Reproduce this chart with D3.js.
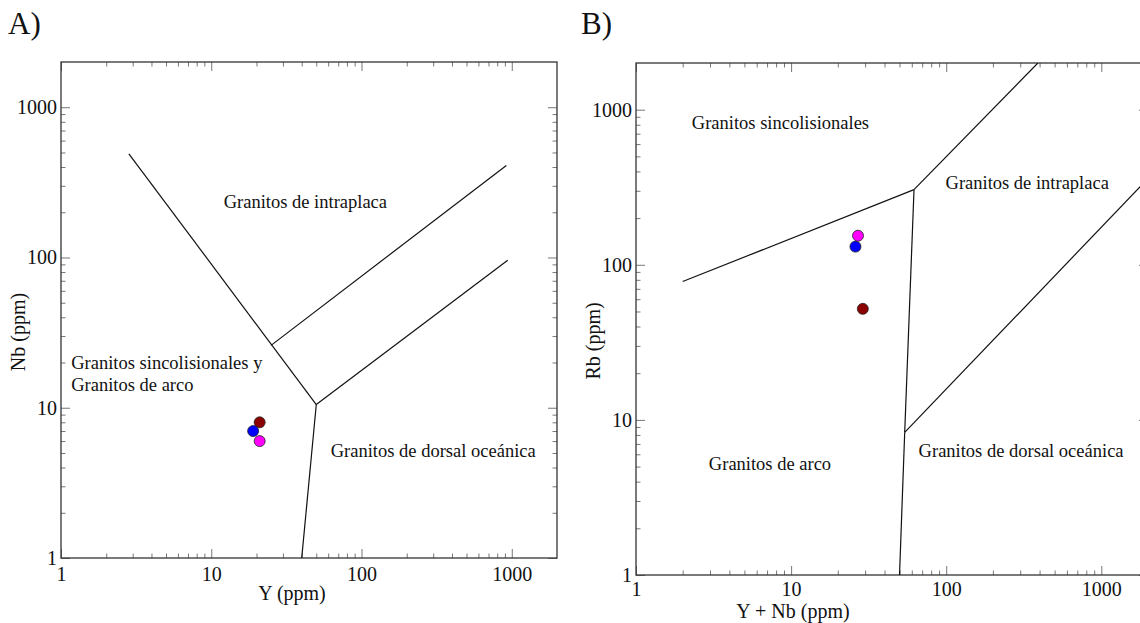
<!DOCTYPE html>
<html><head><meta charset="utf-8">
<script src="https://cdn.jsdelivr.net/npm/d3@7"></script>
<style>body{margin:0;background:#fff}svg{display:block}text{font-family:"Liberation Serif","Times New Roman",serif;fill:#111}</style>
</head><body><svg id="c" width="1140" height="623"></svg>
<script>
// ---- data ----
const majorTicks = [1, 10, 100, 1000];
const tickLabels = ["1", "10", "100", "1000"];
const domainA = [1, 2000];
// Panel A: Nb vs Y
const samples = ["rojo", "azul", "magenta"];
const sampleColors = ["#8b0000", "#0000ff", "#ff00ff"];
const yA = [21, 19, 21];
const nbA = [8, 7, 6];
// Panel B: Rb vs Y+Nb
const ynbB = [29, 26, 27];
const rbB = [52, 131, 154];
// boundary lines (data coordinates)
const linesA = [
  [[2.83, 490], [50, 10.5]],
  [[25, 26], [920, 410]],
  [[50, 10.5], [940, 96]],
  [[50, 10.5], [40, 1]]
];
const linesB = [
  [[2, 78], [62, 305]],
  [[62, 305], [390, 2000]],
  [[62, 305], [54, 8.3]],
  [[54, 8.3], [50, 1]],
  [[54, 8.3], [2000, 360]]
];
const labelsA = [
  {t: "Granitos de intraplaca", x: 12.1, y: 237},
  {t: "Granitos sincolisionales y", x: 1.17, y: 20.1},
  {t: "Granitos de arco", x: 1.17, y: 14.2},
  {t: "Granitos de dorsal oceánica", x: 62.4, y: 5.23}
];
const labelsB = [
  {t: "Granitos sincolisionales", x: 2.29, y: 823},
  {t: "Granitos de intraplaca", x: 99, y: 337},
  {t: "Granitos de arco", x: 2.95, y: 5.22},
  {t: "Granitos de dorsal oceánica", x: 66.4, y: 6.33}
];

const svg = d3.select("#c");
const minor = [];
for (let d = 1; d < 2000; d *= 10) for (let k = 2; k <= 9; k++) if (d * k < 2000) minor.push(d * k);

function panel(opt) {
  const x = d3.scaleLog().domain(domainA).range([opt.x0, opt.x1]);
  const y = d3.scaleLog().domain(domainA).range([opt.y0, opt.y1]);
  const g = svg.append("g");
  const clipId = "clip" + opt.name;
  svg.append("defs").append("clipPath").attr("id", clipId).append("rect")
    .attr("x", opt.x0).attr("y", opt.y1).attr("width", opt.x1 - opt.x0).attr("height", opt.y0 - opt.y1);

  const fmt = d => tickLabels[majorTicks.indexOf(d)];
  function ax(gen, tr, vals, size, labels) {
    const a = gen(gen === d3.axisBottom || gen === d3.axisTop ? x : y)
      .tickValues(vals).tickSize(-size).tickFormat(labels ? fmt : "");
    const s = g.append("g").attr("transform", tr).call(a);
    s.select(".domain").remove();
    s.selectAll(".tick line").attr("stroke", "#777").attr("stroke-width", 1);
    s.selectAll(".tick text").attr("font-size", 20).style("font-family", "Liberation Serif").attr("fill", "#111");
    return s;
  }
  const bx = ax(d3.axisBottom, `translate(0,${opt.y0})`, majorTicks, 9, true);
  bx.selectAll(".tick text").attr("y", opt.xlY).attr("dy", "0.71em");
  ax(d3.axisBottom, `translate(0,${opt.y0})`, minor, 4.5, false);
  ax(d3.axisTop, `translate(0,${opt.y1})`, majorTicks, 9, false);
  ax(d3.axisTop, `translate(0,${opt.y1})`, minor, 4.5, false);
  const ly = ax(d3.axisLeft, `translate(${opt.x0},0)`, majorTicks, 9, true);
  ly.selectAll(".tick text").attr("x", -4);
  ax(d3.axisLeft, `translate(${opt.x0},0)`, minor, 4.5, false);
  ax(d3.axisRight, `translate(${opt.x1},0)`, majorTicks, 9, false);
  ax(d3.axisRight, `translate(${opt.x1},0)`, minor, 4.5, false);

  g.append("rect").attr("x", opt.x0).attr("y", opt.y1).attr("width", opt.x1 - opt.x0)
    .attr("height", opt.y0 - opt.y1).attr("fill", "none").attr("stroke", "#333").attr("stroke-width", 1.3);

  const line = d3.line().x(d => x(d[0])).y(d => y(d[1]));
  g.append("g").attr("clip-path", `url(#${clipId})`).selectAll("path").data(opt.lines).join("path")
    .attr("d", line).attr("fill", "none").attr("stroke", "#111").attr("stroke-width", 1.2);

  g.selectAll("text.lab").data(opt.labels).join("text").attr("class", "lab")
    .attr("x", d => x(d.x)).attr("y", d => y(d.y)).attr("dy", "0.35em")
    .attr("text-anchor", "start").attr("font-size", 18.5).text(d => d.t);

  g.selectAll("circle").data(opt.px.map((v, i) => [v, opt.py[i], sampleColors[i]])).join("circle")
    .attr("cx", d => x(d[0])).attr("cy", d => y(d[1])).attr("r", 5.5)
    .attr("fill", d => d[2]).attr("stroke", "#222").attr("stroke-width", 0.8);

  g.append("text").attr("x", opt.xtX).attr("y", opt.y0 + opt.xtOff).attr("dy", "0.35em")
    .attr("text-anchor", "middle").attr("font-size", 20).text(opt.xt);
  g.append("text").attr("transform", `translate(${opt.ytX},${opt.ytY}) rotate(-90)`)
    .attr("dy", "0.35em").attr("text-anchor", "middle").attr("font-size", 20).text(opt.yt);
  g.append("text").attr("x", opt.letterX).attr("y", 34).attr("font-size", 31).text(opt.letter);
}

panel({name: "A", x0: 61, x1: 557, y0: 558, y1: 62, lines: linesA, labels: labelsA, xlY: 9,
  px: yA, py: nbA, xt: "Y (ppm)", yt: "Nb (ppm)", xtX: 292, xtOff: 35, ytX: 18, ytY: 332, letter: "A)", letterX: 8});
panel({name: "B", x0: 636, x1: 1148, y0: 575, y1: 63, lines: linesB, labels: labelsB, xlY: 7,
  px: ynbB, py: rbB, xt: "Y + Nb (ppm)", yt: "Rb (ppm)", xtX: 793, xtOff: 36, ytX: 593, ytY: 341, letter: "B)", letterX: 581});
</script></body></html>
